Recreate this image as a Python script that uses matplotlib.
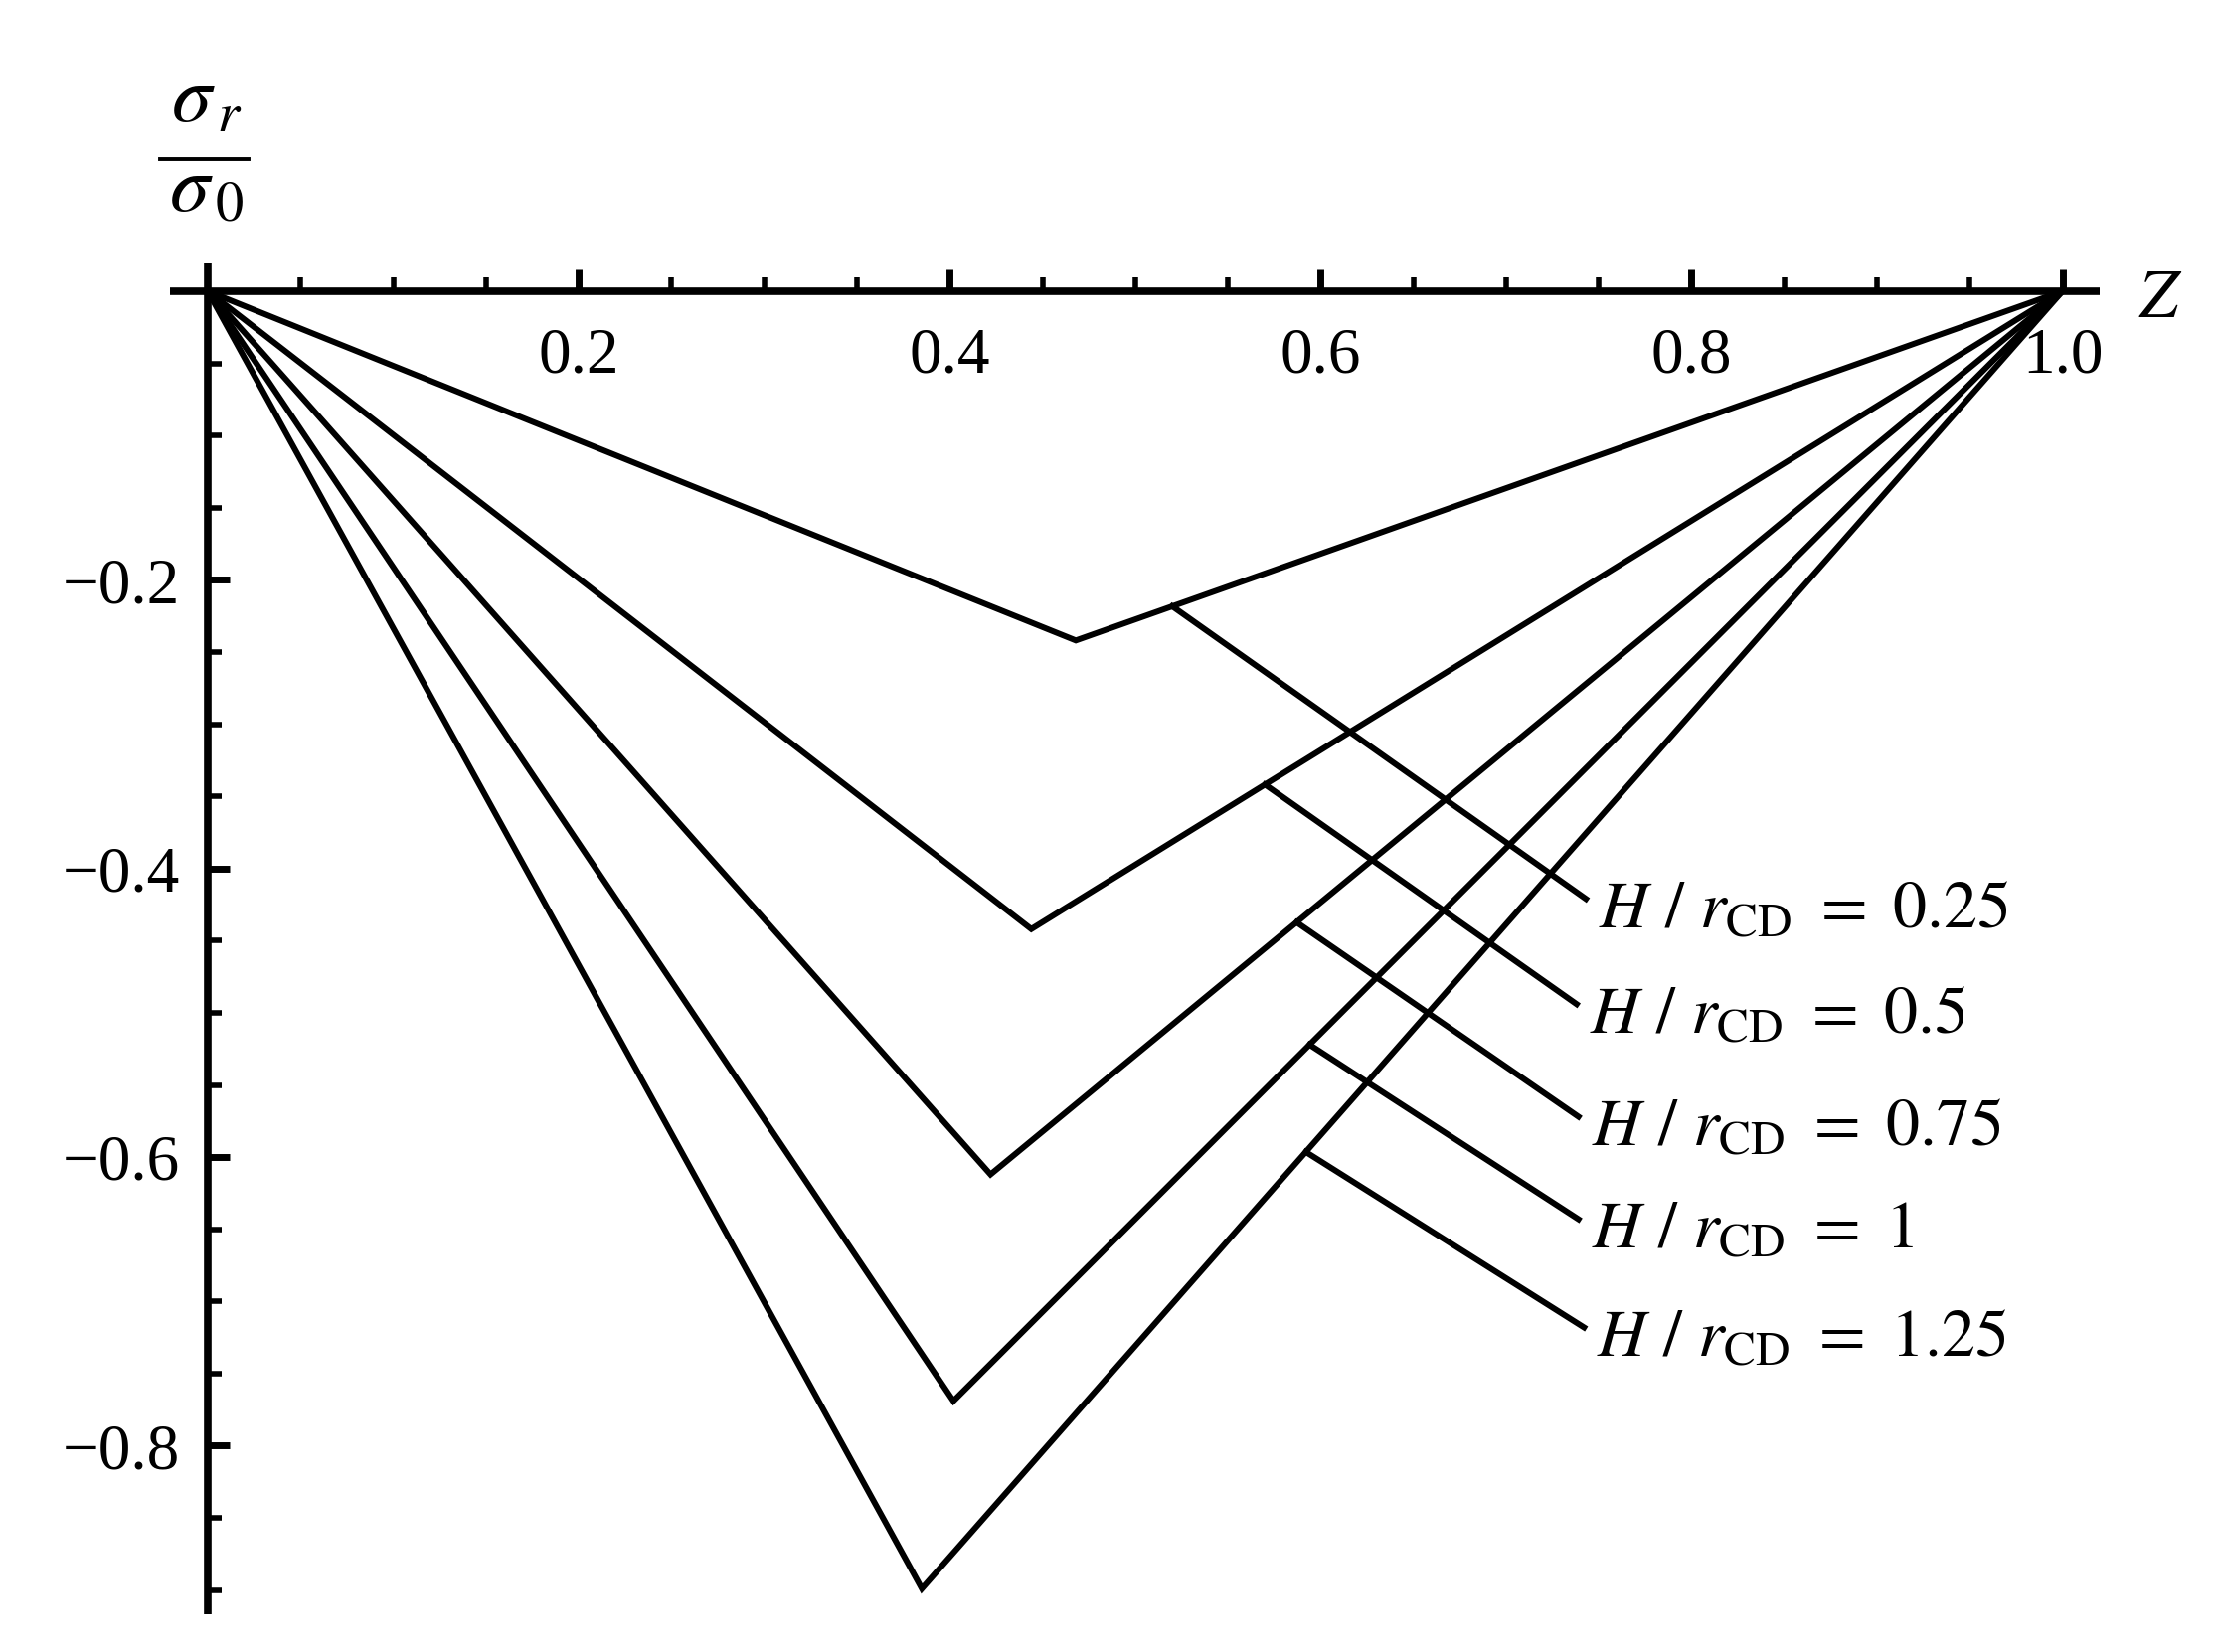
import matplotlib
matplotlib.use("Agg")
import matplotlib.pyplot as plt
import numpy as np
from matplotlib.ticker import FixedLocator
from matplotlib.lines import Line2D

plt.rcParams['font.family'] = ['Liberation Serif', 'DejaVu Serif']
plt.rcParams['mathtext.fontset'] = 'stix'

# vertex of each V-shaped curve (Z, sigma_r/sigma_0)
h_ratio = ['0.25', '0.5', '0.75', '1', '1.25']
z_min = [0.468, 0.444, 0.422, 0.402, 0.385]
s_min = [-0.242, -0.442, -0.612, -0.769, -0.899]

# leader lines from curve to label
lead_z0 = [0.520, 0.570, 0.587, 0.594, 0.592]
lead_z1 = [0.743, 0.738, 0.739, 0.739, 0.742]
lead_s1 = [-0.421, -0.494, -0.572, -0.643, -0.718]

fig = plt.figure(figsize=(22.32, 16.62), dpi=100)
ax = fig.add_axes([0.0766, 0.0229, 0.8696, 0.8177])

lw = 4.3
for i in range(len(h_ratio)):
    zz = [0.0, z_min[i], 1.0]
    ss = [0.0, s_min[i], 0.0]
    ax.plot(zz, ss, color='black', lw=lw, solid_joinstyle='miter', clip_on=False)
    s0 = np.interp(lead_z0[i], zz, ss)
    ax.plot([lead_z0[i], lead_z1[i]], [s0, lead_s1[i]], color='black', lw=lw)
    ax.text(lead_z1[i] + 0.007, lead_s1[i] - 0.020,
            r'$H\ /\ r_{\mathrm{CD}}\ =\ %s$' % h_ratio[i],
            fontsize=49, ha='left', va='baseline')

ax.set_xlim(-0.0204, 1.020)
ax.set_ylim(-0.9167, 0.0193)

for s in ['top', 'right']:
    ax.spines[s].set_visible(False)
ax.spines['left'].set_position(('data', 0))
ax.spines['bottom'].set_position(('data', 0))
for s in ['left', 'bottom']:
    ax.spines[s].set_linewidth(5.5)
    ax.spines[s].set_capstyle('butt')

ax.xaxis.set_major_locator(FixedLocator([0.2, 0.4, 0.6, 0.8, 1.0]))
ax.xaxis.set_minor_locator(FixedLocator([0.05, 0.1, 0.15, 0.25, 0.3, 0.35, 0.45, 0.5, 0.55,
                                         0.65, 0.7, 0.75, 0.85, 0.9, 0.95]))
ax.yaxis.set_major_locator(FixedLocator([-0.2, -0.4, -0.6, -0.8]))
ax.yaxis.set_minor_locator(FixedLocator([-0.05, -0.1, -0.15, -0.25, -0.3, -0.35, -0.45, -0.5,
                                         -0.55, -0.65, -0.7, -0.75, -0.85, -0.9]))
ax.xaxis.set_major_formatter(plt.FuncFormatter(lambda v, p: '%.1f' % v))
ax.yaxis.set_major_formatter(plt.FuncFormatter(lambda v, p: '\u2212%.1f' % abs(v)))

ax.tick_params(which='major', direction='in', length=16, width=5, labelsize=47)
ax.tick_params(which='minor', direction='in', length=10, width=4)
ax.tick_params(axis='x', which='major', pad=26)
ax.tick_params(axis='y', which='major', pad=20)

# axis titles
fig.text(0.9735, 0.818, r'$Z$', fontsize=50, ha='center', va='center')
fig.text(0.0930, 0.938, r'$\sigma_{\,r}$', fontsize=58, ha='center', va='center')
fig.text(0.0930, 0.884, r'$\sigma_{\,0}$', fontsize=58, ha='center', va='center')
fig.add_artist(Line2D([0.072, 0.112], [0.904, 0.904], color='black', lw=2.8,
                      transform=fig.transFigure))

fig.savefig('out.png', dpi=100, facecolor='white')
